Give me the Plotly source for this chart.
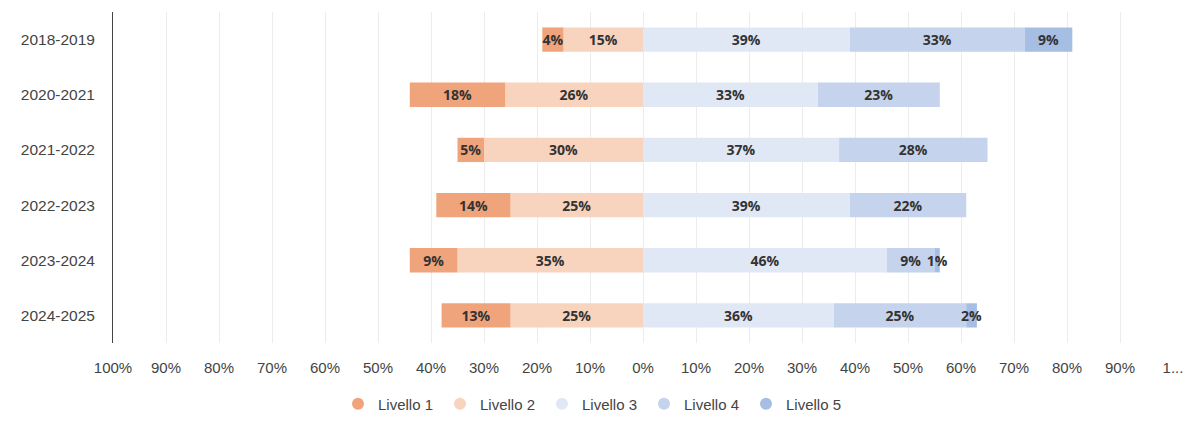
import plotly.graph_objects as go

years = ["2018-2019", "2020-2021", "2021-2022", "2022-2023", "2023-2024", "2024-2025"]
livello1 = [4, 18, 5, 14, 9, 13]
livello2 = [15, 26, 30, 25, 35, 25]
livello3 = [39, 33, 37, 39, 46, 36]
livello4 = [33, 23, 28, 22, 9, 25]
livello5 = [9, 0, 0, 0, 1, 2]

names = ["Livello 1", "Livello 2", "Livello 3", "Livello 4", "Livello 5"]
colors = ["#F0A47B", "#F8D4BF", "#E1E8F5", "#C5D4EC", "#A6BDE4"]

x_ticks = list(range(-100, 101, 10))
x_labels = [f"{abs(v)}%" for v in x_ticks[:-1]] + ["1..."]

fig = go.Figure()

def add_bar(vals, name, color, sign):
    xs = [sign * v if v else None for v in vals]
    txt = [f"{v}%" if v else "" for v in vals]
    fig.add_trace(go.Bar(
        y=years, x=xs, orientation="h", name=name,
        marker=dict(color=color, line=dict(width=0)),
        text=txt, textposition="inside", insidetextanchor="middle",
        textangle=0,
        textfont=dict(family="Open Sans", size=14, color="#333333", weight="bold"),
        showlegend=False, hoverinfo="skip", constraintext="none",
    ))

# negative side: Livello 2 next to zero, then Livello 1
add_bar(livello2, names[1], colors[1], -1)
add_bar(livello1, names[0], colors[0], -1)
add_bar(livello3, names[2], colors[2], 1)
add_bar(livello4, names[3], colors[3], 1)
add_bar(livello5, names[4], colors[4], 1)

for n, c in zip(names, colors):
    fig.add_trace(go.Scatter(
        x=[None], y=[None], mode="markers", name=n,
        marker=dict(symbol="circle", size=14, color=c),
        showlegend=True,
    ))

fig.update_layout(
    width=1186, height=424,
    margin=dict(l=113, r=13, t=12, b=81),
    paper_bgcolor="white", plot_bgcolor="white",
    barmode="relative", bargap=0.56,
    uniformtext=dict(minsize=14, mode="show"),
    font=dict(family="Liberation Sans, Arial", size=15, color="#444444"),
    legend=dict(
        orientation="h", xref="container", yref="container",
        x=0.5, xanchor="center", y=0.047, yanchor="middle",
        font=dict(size=15, color="#444444"),
        entrywidth=57, entrywidthmode="pixels", itemsizing="constant",
    ),
    xaxis=dict(
        range=[-100, 100], tickvals=x_ticks, ticktext=x_labels,
        showgrid=True, gridcolor="#ECECEC", gridwidth=1,
        zeroline=False, showline=False, automargin=False,
        ticks="outside", ticklen=11, tickcolor="rgba(0,0,0,0)",
        tickfont=dict(size=15, color="#444444"), fixedrange=True,
    ),
    yaxis=dict(
        autorange="reversed", categoryorder="array", categoryarray=years,
        showline=True, linecolor="#444444", linewidth=1, automargin=False,
        ticks="outside", ticklen=14, tickcolor="rgba(0,0,0,0)",
        tickfont=dict(size=15.5, color="#444444"), showgrid=False,
    ),
)

fig.write_html(
    "out.html",
    config={"displayModeBar": False},
    post_script="document.body.style.margin='0';document.body.style.padding='0';",
)
